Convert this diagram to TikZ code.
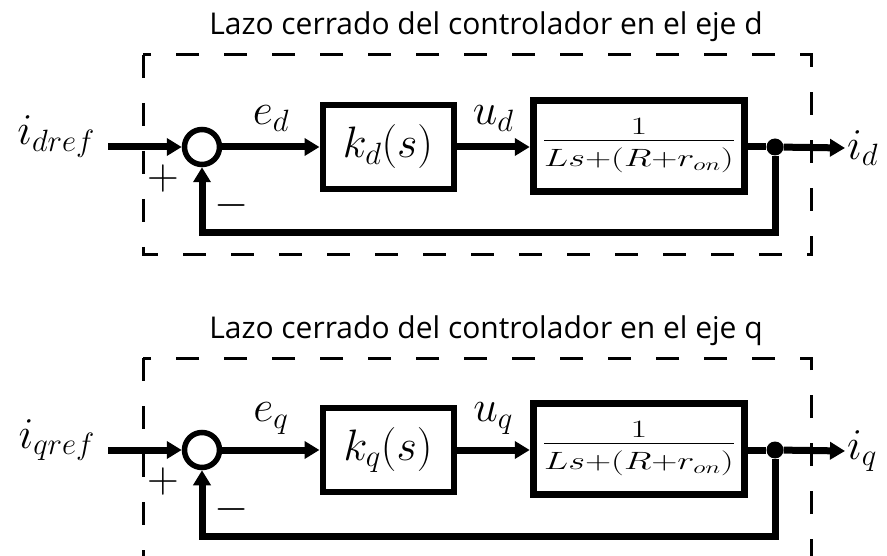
\RequirePackage{fix-cm}
\documentclass[tikz,border=0pt]{standalone}
\usepackage{amsmath}
\usepackage{graphicx}
\usepackage{fontspec}
\newfontfamily\titlefont{Open Sans}
\usetikzlibrary{
		calc,
		positioning,
		arrows.meta
	}
\tikzset{
		>={Triangle[length=15pt,width=17pt]}
	}

\begin{document}
\begin{tikzpicture}[x=1pt, y=-1pt,
					sig/.style={font=\fontsize{44}{52}\selectfont, inner sep=2pt},
					titletext/.style={font=\titlefont\fontsize{30}{36}\selectfont, inner sep=0pt, anchor=base},
					sumcirc/.style={circle, draw, line width=5.5pt, minimum size=35pt, inner sep=0pt},
					blockk/.style={draw, line width=6pt, minimum width=131pt, minimum height=84pt, font=\fontsize{44}{52}\selectfont},
					blockg/.style={draw, line width=7.5pt, minimum width=211pt, minimum height=91pt, font=\fontsize{25}{30}\selectfont},
					branch/.style={circle, fill, minimum size=17pt, inner sep=0pt},
					sigline/.style={line width=7pt},
					dashbox/.style={line width=3pt, dash pattern=on 23pt off 25pt}]
		\useasboundingbox (0,0) rectangle (887,556);
		\foreach \ax/\yo in {d/0, q/303} {
			\begin{scope}[shift={(0,\yo)}]
				\node[titletext] (title\ax) at (486,35) {Lazo cerrado del controlador en el eje \ax};
				\draw[dashbox] (143,55) rectangle (811,255);
				% sumador y bloques
				\node[sumcirc] (sum\ax) at (202,147) {};
				\node[blockk] (kbox\ax) at (388,147) {$k_\ax(s)$};
				\node[blockg] (gbox\ax) at (639,146) {\raisebox{-1.5pt}{\scalebox{1.45}[1]{$\displaystyle\frac{\raisebox{-5pt}{$1$}}{\raisebox{-3pt}{$Ls{+}(R{+}r_{on})$}}$}}};
				\node[branch] (br\ax) at (775,147) {};
				\coordinate (src\ax) at (108,147);
				\coordinate (fb\ax) at (775,233);
				% senales
				\node[sig, anchor=base east] (in\ax) at (97,145) {$i_{\ax ref}$};
				\node[sig, anchor=west] (out\ax) at (845,148) {$i_\ax$};
				\node[sig] (plus\ax) at (163,179) {$+$};
				\node[sig] (minus\ax) at (232,206) {$-$};
				\draw[sigline, ->] (src\ax) -- (sum\ax.west);
				\draw[sigline, ->] (sum\ax) -- node[sig, above=10pt] {$e_\ax$} (kbox\ax);
				\draw[sigline, ->] (kbox\ax) -- node[sig, above=10pt] {$u_\ax$} (gbox\ax.west |- kbox\ax);
				\draw[sigline] (gbox\ax.east |- br\ax) -- (br\ax);
				\draw[sigline, ->] (br\ax) -- (out\ax.west);
				\draw[sigline, ->] (br\ax) -- (fb\ax) -| (sum\ax.south);
			\end{scope}
		}
	\end{tikzpicture}
\end{document}
